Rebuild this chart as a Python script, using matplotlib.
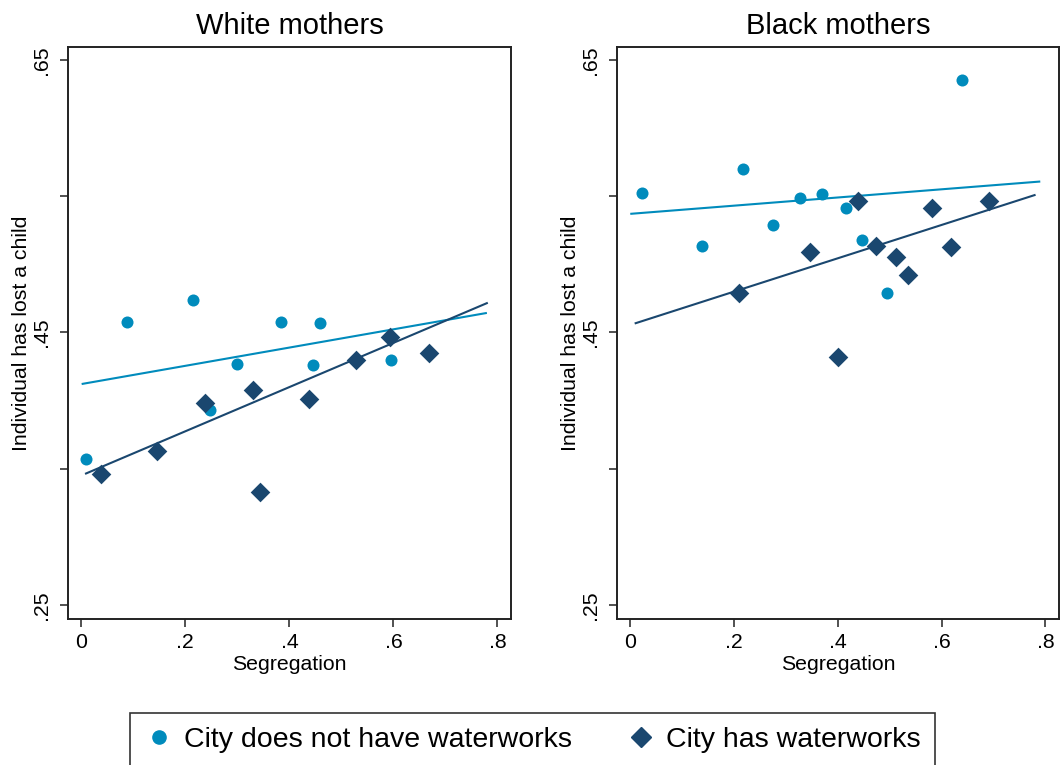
import numpy as np
import matplotlib.pyplot as plt
from matplotlib.lines import Line2D

plt.rcParams['font.family'] = ['Liberation Sans', 'DejaVu Sans']

# White mothers - city without waterworks (circles)
w_no_x = [0.009, 0.087, 0.215, 0.2475, 0.299, 0.384, 0.446, 0.458, 0.596]
w_no_y = [0.357, 0.458, 0.474, 0.393, 0.427, 0.458, 0.426, 0.457, 0.430]
# White mothers - city with waterworks (diamonds)
w_yes_x = [0.038, 0.145, 0.238, 0.330, 0.344, 0.4385, 0.528, 0.594, 0.669]
w_yes_y = [0.346, 0.363, 0.398, 0.408, 0.333, 0.401, 0.430, 0.447, 0.435]

# Black mothers - city without waterworks
b_no_x = [0.0237, 0.138, 0.2167, 0.276, 0.328, 0.369, 0.416, 0.4475, 0.4955, 0.639]
b_no_y = [0.5526, 0.5134, 0.5697, 0.5286, 0.5489, 0.5513, 0.5413, 0.5178, 0.4786, 0.6352]
# Black mothers - city with waterworks
b_yes_x = [0.210, 0.346, 0.400, 0.439, 0.474, 0.513, 0.536, 0.581, 0.6185, 0.692]
b_yes_y = [0.4791, 0.5090, 0.4319, 0.5467, 0.5134, 0.5053, 0.4924, 0.5413, 0.5124, 0.5462]

# fitted lines (endpoints)
w_no_fit_x, w_no_fit_y = [0.0026, 0.7777], [0.4123, 0.4642]
w_yes_fit_x, w_yes_fit_y = [0.009, 0.7796], [0.3465, 0.4715]
b_no_fit_x, b_no_fit_y = [0.0026, 0.788], [0.5371, 0.5607]
b_yes_fit_x, b_yes_fit_y = [0.011, 0.779], [0.4568, 0.5508]

light = '#008bbc'
navy = '#1a476f'

fig = plt.figure(figsize=(10.61, 7.65), dpi=100)
ax1 = fig.add_axes([0.0641, 0.1908, 0.4175, 0.7478])
ax2 = fig.add_axes([0.5812, 0.1908, 0.4169, 0.7478])

panels = [
    (ax1, 'White mothers', w_no_x, w_no_y, w_yes_x, w_yes_y,
     w_no_fit_x, w_no_fit_y, w_yes_fit_x, w_yes_fit_y),
    (ax2, 'Black mothers', b_no_x, b_no_y, b_yes_x, b_yes_y,
     b_no_fit_x, b_no_fit_y, b_yes_fit_x, b_yes_fit_y),
]

for ax, title, nx, ny, yx, yy, fnx, fny, fyx, fyy in panels:
    ax.scatter(nx, ny, s=75, marker='o', color=light, linewidths=0, zorder=3)
    ax.scatter(yx, yy, s=100, marker='D', color=navy, linewidths=0, zorder=3)
    ax.plot(fnx, fny, color=light, lw=1.5, zorder=2)
    ax.plot(fyx, fyy, color=navy, lw=1.5, zorder=2)

    ax.set_xlim(-0.0256, 0.826)
    ax.set_ylim(0.2397, 0.6595)
    ax.set_xticks([0, 0.2, 0.4, 0.6, 0.8])
    ax.set_xticklabels(['0', '.2', '.4', '.6', '.8'])
    ax.set_yticks([0.25, 0.35, 0.45, 0.55, 0.65])
    ax.set_yticklabels(['.25', '', '.45', '', '.65'], rotation=90, va='center')
    ax.tick_params(axis='both', labelsize=15.3, length=6, width=1.1, color='#222222')
    ax.tick_params(axis='x', pad=4)
    ax.tick_params(axis='y', pad=6)
    for sp in ax.spines.values():
        sp.set_linewidth(1.4)
        sp.set_color('#222222')
    ax.set_xlabel('Segregation', fontsize=15.3, labelpad=2)
    ax.set_ylabel('Individual has lost a child', fontsize=15.3, labelpad=1)
    ax.set_title(title, fontsize=21, pad=9)

handles = [
    Line2D([], [], marker='o', color=light, linestyle='none', markersize=9.5),
    Line2D([], [], marker='D', color=navy, linestyle='none', markersize=10),
]
leg = fig.legend(handles, ['City does not have waterworks', 'City has waterworks'],
                 loc='upper center', bbox_to_anchor=(0.502, 1 - 713 / 765),
                 ncol=2, fontsize=20.5, frameon=True, fancybox=False,
                 edgecolor='black', borderpad=0.5, borderaxespad=0,
                 handletextpad=0.4, handlelength=1.0, columnspacing=1.9)
leg.get_frame().set_linewidth(1.2)

fig.savefig('out.png', dpi=100)
